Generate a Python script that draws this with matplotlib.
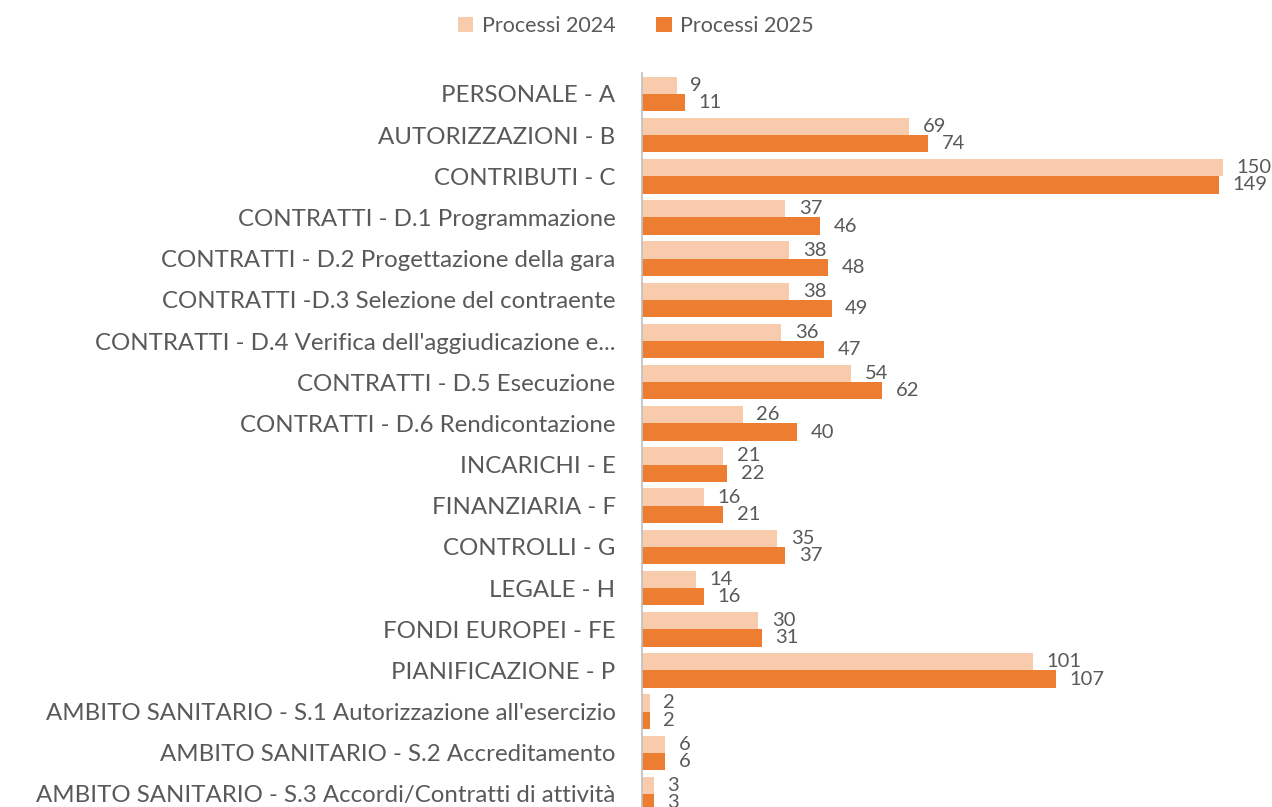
import matplotlib.pyplot as plt
import numpy as np

# dati
categorie = [
    "PERSONALE - A",
    "AUTORIZZAZIONI - B",
    "CONTRIBUTI - C",
    "CONTRATTI - D.1 Programmazione",
    "CONTRATTI - D.2 Progettazione della gara",
    "CONTRATTI -D.3 Selezione del contraente",
    "CONTRATTI - D.4 Verifica dell'aggiudicazione e...",
    "CONTRATTI - D.5 Esecuzione",
    "CONTRATTI - D.6 Rendicontazione",
    "INCARICHI - E",
    "FINANZIARIA - F",
    "CONTROLLI - G",
    "LEGALE - H",
    "FONDI EUROPEI - FE",
    "PIANIFICAZIONE - P",
    "AMBITO SANITARIO - S.1 Autorizzazione all'esercizio",
    "AMBITO SANITARIO - S.2 Accreditamento",
    "AMBITO SANITARIO - S.3 Accordi/Contratti di attività",
]
processi_2024 = [9, 69, 150, 37, 38, 38, 36, 54, 26, 21, 16, 35, 14, 30, 101, 2, 6, 3]
processi_2025 = [11, 74, 149, 46, 48, 49, 47, 62, 40, 22, 21, 37, 16, 31, 107, 2, 6, 3]

col_2024 = "#F8CBAD"
col_2025 = "#ED7D31"
grigio = "#595959"

plt.rcParams['font.family'] = ['Lato', 'DejaVu Sans']

fig = plt.figure(figsize=(12.72, 8.07), dpi=100)
ax = fig.add_axes([0.5047, -0.0094, 0.487, 0.9185])

y = np.arange(len(categorie))
h = 0.42
b1 = ax.barh(y - h / 2, processi_2024, height=h, color=col_2024, label="Processi 2024")
b2 = ax.barh(y + h / 2, processi_2025, height=h, color=col_2025, label="Processi 2025")

# etichette dei valori
for bars in (b1, b2):
    for r in bars:
        ax.text(r.get_width() + 3.5, r.get_y() + r.get_height() / 2, str(int(r.get_width())),
                va="center", ha="left", fontsize=14.5, color=grigio)

ax.set_ylim(len(categorie) - 0.5, -0.5)
ax.set_xlim(0, 160)
ax.set_yticks(y)
ax.set_yticklabels(categorie, fontsize=17.3, color=grigio)
ax.tick_params(axis="y", length=0, pad=19)
ax.set_xticks([])
for s in ["top", "right", "bottom"]:
    ax.spines[s].set_visible(False)
ax.spines["left"].set_color("#BFBFBF")
ax.spines["left"].set_linewidth(1.2)

fig.legend(handles=[b1, b2], loc="center", bbox_to_anchor=(0.5, 0.968), ncol=2,
           frameon=False, fontsize=15.5, labelcolor=grigio, handlelength=0.7,
           handleheight=0.7, columnspacing=1.9, handletextpad=0.4)

fig.savefig("out.png", dpi=100)
